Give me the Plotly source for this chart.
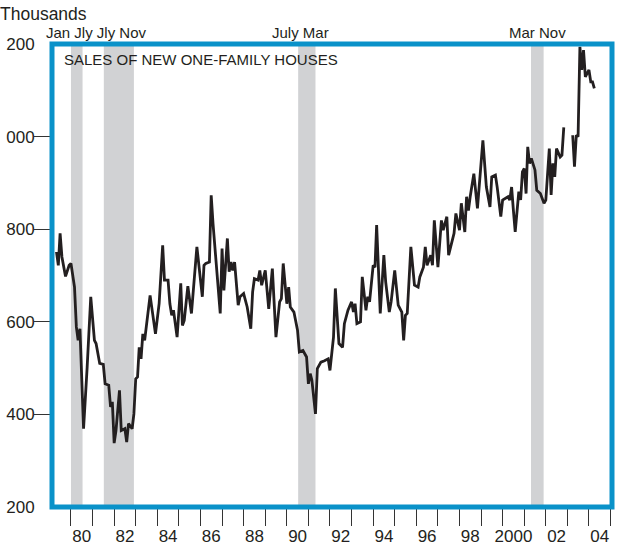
import plotly.graph_objects as go

# ---- data ----
months = [
    "1979-05", "1979-06", "1979-07", "1979-08", "1979-10", "1979-12",
    "1980-01", "1980-03", "1980-04", "1980-05", "1980-06", "1980-08", "1980-10", "1980-12",
    "1981-02", "1981-03", "1981-05", "1981-07", "1981-08", "1981-10", "1981-11", "1981-12",
    "1982-01", "1982-02", "1982-04", "1982-05", "1982-07", "1982-08", "1982-09", "1982-11", "1982-12",
    "1983-01", "1983-02", "1983-03", "1983-04", "1983-05", "1983-06", "1983-09", "1983-12",
    "1984-02", "1984-04", "1984-05", "1984-07", "1984-08", "1984-09", "1984-10", "1984-12",
    "1985-02", "1985-03", "1985-04", "1985-06", "1985-08", "1985-11",
    "1986-02", "1986-03", "1986-04", "1986-06", "1986-07", "1986-08", "1986-10", "1986-12",
    "1987-01", "1987-02", "1987-04", "1987-05", "1987-06", "1987-07", "1987-08", "1987-10", "1987-11",
    "1988-01", "1988-03", "1988-05", "1988-06", "1988-07", "1988-09", "1988-10", "1988-11",
    "1989-01", "1989-03", "1989-05", "1989-07", "1989-09", "1989-10", "1989-11",
    "1990-01", "1990-02", "1990-03", "1990-05", "1990-07", "1990-08", "1990-10", "1990-12",
    "1991-01", "1991-02", "1991-03", "1991-05", "1991-06", "1991-08", "1991-10", "1991-12",
    "1992-01", "1992-03", "1992-04", "1992-06", "1992-08", "1992-09", "1992-11",
    "1993-01", "1993-02", "1993-03", "1993-04", "1993-06", "1993-07", "1993-09", "1993-10", "1993-11",
    "1994-01", "1994-02", "1994-03", "1994-05", "1994-07", "1994-08", "1994-10", "1994-11",
    "1995-01", "1995-03", "1995-05", "1995-06", "1995-07", "1995-08", "1995-10", "1995-12",
    "1996-02", "1996-03", "1996-05", "1996-06", "1996-07", "1996-09", "1996-10", "1996-11",
    "1997-01", "1997-03", "1997-04", "1997-06", "1997-07", "1997-10", "1997-11",
    "1998-01", "1998-02", "1998-04", "1998-05", "1998-06", "1998-07", "1998-09", "1998-11",
    "1999-02", "1999-04", "1999-06", "1999-07", "1999-09", "1999-10", "1999-12",
    "2000-01", "2000-02", "2000-04", "2000-05", "2000-06", "2000-07", "2000-08", "2000-10", "2000-11", "2000-12",
    "2001-01", "2001-02", "2001-03", "2001-04", "2001-05", "2001-07", "2001-08", "2001-10", "2001-12",
    "2002-01", "2002-03", "2002-04", "2002-05", "2002-06", "2002-07", "2002-09", "2002-10", "2002-11",
    "2003-01", "2003-04", "2003-05", "2003-06", "2003-07", "2003-08", "2003-09", "2003-10", "2003-11",
    "2004-01", "2004-02", "2004-03", "2004-04",
]
sales = [
    751, 722, 791, 740, 698, 722,
    726, 675, 589, 560, 585, 369, 502, 654,
    560, 553, 510, 508, 466, 463, 416, 427,
    338, 365, 452, 365, 369, 340, 380, 369, 401,
    477, 481, 545, 520, 574, 560, 657, 574,
    639, 765, 690, 690, 639, 614, 625, 567,
    683, 592, 603, 677, 618, 762,
    654, 722, 726, 729, 873, 812, 718, 618,
    758, 668, 780, 708, 729, 711, 729, 636, 654,
    661, 632, 585, 664, 693, 690, 711, 679,
    711, 628, 715, 567, 643, 650, 726,
    639, 675, 632, 621, 582, 535, 538, 524,
    466, 488, 474, 401, 499, 513, 516, 520,
    495, 567, 672, 553, 545, 596, 625,
    643, 621, 639, 596, 600, 697, 625, 654, 643,
    722, 718, 809, 618, 744, 686, 621, 643,
    711, 636, 621, 560, 614, 618, 762, 679,
    675, 697, 718, 762, 722, 744, 722, 819,
    718, 819, 798, 827, 744, 791, 834,
    798, 856, 794, 870, 840, 870, 920, 845,
    992, 891, 848, 913, 917, 891, 827,
    863, 866, 870, 863, 891, 841, 794, 881, 863, 924,
    931, 877, 978, 942, 953, 928, 884, 877, 856,
    863, 974, 874, 942, 913, 974, 956, 960, 1020,
    None, 1003, 935, 1003, 1000, 1194, 1144, 1187, 1129,
    1144, 1118, 1118, 1104,
]

recession_start = ["1980-01-01", "1981-07-10", "1990-07-12", "2001-04-25"]
recession_end = ["1980-07-15", "1982-12-01", "1991-05-01", "2001-11-25"]
recession_labels = ["Jan Jly Jly Nov", "July Mar", "Mar Nov"]
recession_label_x = ["1981-03-15", "1990-08-25", "2001-08-20"]

# x axis: a tick at every January, a label (centred in the year) every other year
x_label_alias = {
    "79": "", "81": "", "83": "", "85": "", "87": "", "89": "", "91": "",
    "93": "", "95": "", "97": "", "99": "", "00": "2000", "01": "", "03": "", "05": "",
}

# y axis: labels as they appear on the chart (the left digits are cut by the page edge)
y_label_vals = [200, 400, 600, 800, 1000, 1200]
y_label_text = ["200", "400", "600", "800", "000", "200"]
y_tick_vals = [400, 600, 800, 1000]

title_text = "SALES OF NEW ONE-FAMILY HOUSES"
unit_text = "Thousands"

# ---- styles ----
FONT = "Liberation Sans, Arial, Helvetica, sans-serif"
BLUE = "#0a92c9"
GREY = "#d1d2d4"
INK = "#231f20"
TICK = "#333333"
X_RANGE = ["1979-02-14", "2005-01-25"]
Y_RANGE = [200, 1200]

fig = go.Figure()
fig.add_trace(go.Scatter(
    x=months, y=sales, mode="lines",
    line=dict(color=INK, width=2.8), connectgaps=False,
    hoverinfo="x+y", showlegend=False,
))
# empty helper trace so the tick-only overlay y axis is drawn
fig.add_trace(go.Scatter(x=[], y=[], xaxis="x", yaxis="y2", showlegend=False, hoverinfo="skip"))

shapes = []
for s, e in zip(recession_start, recession_end):
    shapes.append(dict(type="rect", xref="x", yref="paper", x0=s, x1=e, y0=0, y1=1,
                       fillcolor=GREY, line=dict(width=0), layer="below"))
shapes.append(dict(type="rect", xref="paper", yref="paper", x0=0, x1=1, y0=0, y1=1,
                   line=dict(color=BLUE, width=5), fillcolor="rgba(0,0,0,0)", layer="above"))

annotations = []
for txt, xv in zip(recession_labels, recession_label_x):
    annotations.append(dict(text=txt, x=xv, xref="x", y=1.0, yref="paper",
                            yanchor="bottom", xanchor="center", yshift=1, showarrow=False,
                            font=dict(family=FONT, size=15, color=INK)))
annotations.append(dict(text=unit_text, x=-0.0965, xref="paper", y=1.0650, yref="paper",
                        xanchor="left", yanchor="middle", showarrow=False,
                        font=dict(family=FONT, size=17.5, color=INK)))
annotations.append(dict(text=title_text, x=0.0175, xref="paper", y=0.967, yref="paper",
                        xanchor="left", yanchor="middle", showarrow=False,
                        font=dict(family=FONT, size=15, color=INK)))

fig.update_layout(
    width=626, height=548,
    margin=dict(l=52, r=14, t=44, b=41, autoexpand=False),
    paper_bgcolor="white", plot_bgcolor="white",
    font=dict(family=FONT, size=17, color=INK),
    shapes=shapes, annotations=annotations,
    xaxis=dict(
        type="date", range=X_RANGE, automargin=False,
        tickmode="linear", tick0="1980-01-01", dtick="M12",
        tickformat="%y", ticklabelmode="period", labelalias=x_label_alias,
        ticks="outside", ticklen=18, tickwidth=1.3, tickcolor=TICK,
        ticklabelstandoff=-4,
        showgrid=False, zeroline=False, showline=False,
        tickfont=dict(family=FONT, size=17, color=INK),
    ),
    yaxis=dict(
        range=Y_RANGE, automargin=False,
        tickmode="array", tickvals=y_label_vals, ticktext=y_label_text,
        ticks="outside", ticklen=13, tickcolor="rgba(0,0,0,0)",
        showgrid=False, zeroline=False, showline=False,
        tickfont=dict(family=FONT, size=17, color=INK),
    ),
    yaxis2=dict(
        range=Y_RANGE, automargin=False, overlaying="y", side="left", anchor="x",
        tickmode="array", tickvals=y_tick_vals, showticklabels=False,
        ticks="outside", ticklen=17, tickwidth=1.3, tickcolor=TICK,
        showgrid=False, zeroline=False, showline=False,
    ),
)

fig.write_html(
    "out.html",
    config={"displayModeBar": False},
    post_script="document.body.style.margin='0';document.body.style.overflow='hidden';",
)
